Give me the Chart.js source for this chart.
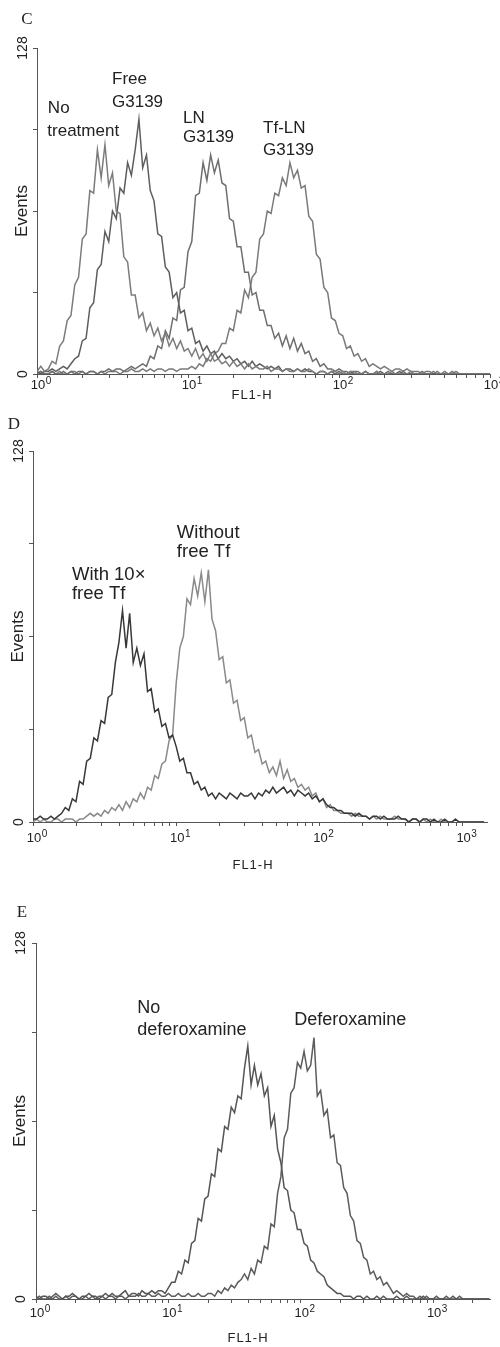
<!DOCTYPE html>
<html>
<head>
<meta charset="utf-8">
<script src="https://cdn.jsdelivr.net/npm/chart.js@4.4.1/dist/chart.umd.min.js"></script>
<style>
  html, body { margin: 0; padding: 0; background: #fff; }
  body { position: relative; width: 500px; height: 1347px; overflow: hidden; }
  canvas { position: absolute; left: 0; }
</style>
</head>
<body>
<canvas id="panel-c" width="500" height="412" style="top:0px"></canvas>
<canvas id="panel-d" width="500" height="465" style="top:412px"></canvas>
<canvas id="panel-e" width="500" height="470" style="top:877px"></canvas>
<script>
// FL1-H histograms: counts per log channel, channel 0 = 10^0, 40 channels per decade
const binsPerDecade = 40;

const yTickValues = [0, 32, 64, 96, 128];
const yTickLabels = ['0', '', '', '', '128'];
const xTickValues = [1, 2, 3, 4, 5, 6, 7, 8, 9, 10, 20, 30, 40, 50, 60, 70, 80, 90,
  100, 200, 300, 400, 500, 600, 700, 800, 900, 1000, 2000];
const xMajorTicks = [1, 10, 100, 1000];
const xMajorExponents = ['0', '1', '2', '3'];

// Panel C
const noTreatment = [
  1, 3, 1, 2, 5, 4, 11, 13, 21, 23,
  35, 38, 53, 55, 72, 71, 88, 77, 90, 74,
  79, 64, 63, 46, 44, 31, 31, 22, 24, 17,
  20, 15, 18, 13, 16, 11, 14, 10, 13, 9,
  10, 7, 10, 6, 8, 5, 8, 5, 6, 4,
  5, 3, 5, 3, 4, 2, 4, 2, 3, 2,
  2, 3, 1, 2, 2, 1, 2, 1, 1, 2,
  1, 1, 2, 1, 0, 1, 1, 0, 1, 1,
  0, 1, 0, 1, 1, 0, 0, 1, 0, 0, 1, 0, 0, 0, 1, 0, 0, 0, 0, 1,
  0, 0, 0, 0, 0, 1, 0, 0, 0, 0, 0, 0, 0, 0, 0, 0, 0, 0, 0, 0, 0
];
const freeG3139 = [
  1, 0, 1, 1, 2, 1, 2, 3, 2, 4,
  6, 7, 13, 14, 26, 28, 41, 43, 56, 52,
  64, 61, 73, 71, 83, 78, 88, 100, 81, 86,
  72, 68, 55, 54, 42, 40, 30, 32, 24, 25,
  17, 18, 12, 13, 9, 11, 8, 9, 6, 8,
  6, 7, 5, 6, 4, 5, 3, 5, 3, 4,
  3, 2, 3, 2, 3, 1, 2, 2, 1, 2,
  1, 2, 1, 1, 0, 1, 1, 0, 1, 0,
  1, 0, 0, 1, 0, 0, 0, 1, 0, 0, 0, 1, 0, 0, 0, 0, 1, 0, 0, 0,
  0, 0, 0, 0, 0, 0, 0, 0, 0, 0, 0, 0, 0, 0, 0, 0, 0, 0, 0, 0, 0
];
const lnG3139 = [
  0, 1, 0, 0, 1, 0, 0, 1, 0, 1, 0, 1, 1, 0, 1, 1, 0, 1, 1, 2,
  1, 2, 2, 1, 2, 3, 2, 3,
  4, 3, 7, 6, 11, 10, 17, 14, 22, 21,
  33, 34, 48, 52, 70, 71, 83, 76, 86, 79,
  84, 75, 74, 61, 60, 50, 50, 40, 40, 31,
  32, 25, 25, 19, 19, 14, 16, 11, 15, 10,
  14, 9, 12, 8, 9, 5, 6, 3, 4, 2,
  2, 1, 2, 1, 1, 0, 1, 1, 0, 1, 0, 0, 1, 0, 0, 1, 0, 0, 0, 1,
  0, 0, 0, 0, 1, 0, 0, 0, 0, 0, 0, 0, 1, 0, 0, 0, 0, 0, 0, 0, 0, 0, 0
];
const tfLnG3139 = [
  0, 1, 0, 0, 1, 0, 1, 0, 0, 1, 1, 0, 1, 0, 1, 1, 0, 1, 0, 1,
  1, 1, 0, 1, 1, 2, 1, 1, 2, 1, 2, 1, 2, 2, 1, 2, 2, 1, 2, 2,
  2, 3, 2, 4, 3, 6, 5, 8, 9, 12,
  12, 18, 17, 25, 24, 33, 30, 38, 40, 53,
  55, 64, 63, 71, 70, 77, 74, 83, 77, 80,
  73, 74, 62, 60, 47, 45, 34, 32, 22, 21,
  16, 15, 10, 11, 7, 8, 5, 6, 3, 4,
  3, 2, 3, 2, 1, 2, 2, 1, 2, 1,
  1, 1, 0, 1, 1, 0, 1, 0, 1, 0, 0, 1, 0, 0, 0, 0, 0, 0, 0, 0, 0
];

// Panel D
const with10xFreeTf = [
  1, 1, 2, 1, 1, 2, 1, 2, 3, 5,
  4, 8, 7, 14, 13, 21, 22, 29, 28, 35,
  34, 43, 44, 55, 62, 73, 60, 72, 55, 60,
  54, 58, 45, 46, 38, 39, 33, 34, 29, 30,
  26, 21, 22, 17, 17, 13, 14, 11, 12, 9,
  10, 8, 10, 9, 8, 10, 9, 8, 10, 9,
  9, 10, 8, 10, 9, 11, 10, 12, 10, 11,
  12, 10, 11, 9, 11, 10, 9, 10, 8, 9,
  7, 8, 6, 5, 5, 4, 4, 3, 3, 3,
  2, 3, 2, 2, 1, 2, 2, 1, 2, 1,
  1, 1, 2, 1, 1, 0, 1, 1, 0, 1,
  1, 0, 1, 0, 0, 1, 0, 0, 1, 0, 0, 0, 0, 0, 0, 0, 0
];
const withoutFreeTf = [
  0, 1, 0, 1, 0, 0, 1, 1, 0, 1, 1, 1, 0, 1,
  1, 2, 3, 2, 3, 2, 4, 3, 5, 4,
  6, 4, 7, 5, 8, 7, 10, 8, 12, 11,
  16, 15, 20, 21, 28, 30, 48, 60, 64, 77,
  75, 84, 78, 86, 76, 87, 70, 66, 56, 57,
  48, 49, 41, 42, 35, 36, 29, 30, 24, 25,
  20, 21, 17, 19, 16, 21, 15, 18, 14, 15,
  12, 13, 11, 12, 9, 10, 7, 8, 5, 6,
  4, 4, 3, 3, 3, 2, 3, 2, 2, 2,
  1, 2, 1, 2, 1, 1, 1, 2, 1, 1,
  1, 0, 1, 1, 0, 1, 0, 1, 0, 0, 1, 0, 0, 0, 1, 0, 0, 0, 0, 0, 0, 0, 0
];

// Panel E
const noDeferoxamine = [
  1, 0, 1, 1, 0, 1, 2, 1, 0, 1, 1, 2, 1, 0, 1, 1, 2, 1, 1, 0,
  1, 2, 1, 2, 1, 1, 2, 3, 1, 2, 2, 1, 3, 2, 2, 3, 2, 3, 3, 2,
  4, 6, 6, 10, 9, 14, 13, 20, 21, 29,
  28, 36, 37, 45, 44, 54, 53, 62, 61, 69,
  67, 73, 72, 83, 91, 77, 84, 77, 81, 73,
  76, 62, 66, 54, 49, 40, 39, 32, 31, 25,
  25, 20, 19, 14, 13, 10, 9, 8, 5, 4,
  3, 2, 2, 1, 1, 1, 0, 1, 1, 0,
  1, 0, 0, 1, 0, 1, 0, 0, 0, 1, 0, 0, 1, 0, 0, 0, 0, 1, 0, 0,
  0, 0, 0, 0, 0, 0, 1, 0, 0, 0, 0, 0, 0, 0, 0, 0, 0, 0
];
const deferoxamine = [
  0, 1, 0, 0, 1, 0, 1, 0, 0, 1, 0, 1, 1, 0, 0, 1, 0, 1, 0, 1,
  1, 0, 1, 1, 0, 1, 1, 0, 1, 1, 1, 2, 1, 1, 2, 1, 1, 2, 1, 1,
  2, 1, 1, 2, 1, 1, 2, 1, 1, 2, 1, 1, 2,
  2, 1, 3, 2, 4, 3, 5, 4, 6, 7,
  9, 7, 11, 9, 14, 13, 19, 18, 27, 26,
  38, 44, 58, 61, 74, 76, 85, 83, 89, 82,
  84, 94, 73, 75, 66, 68, 58, 59, 49, 48,
  40, 38, 30, 28, 21, 20, 15, 14, 9, 10,
  7, 8, 5, 6, 4, 2, 3, 2, 1, 2,
  1, 1, 0, 1, 0, 1, 0, 0, 1, 0, 0, 1, 0, 0, 0, 1, 0, 0, 0, 0,
  0, 0, 0, 0, 0
];

function toPoints(counts) {
  return counts.map((c, i) => ({ x: Math.pow(10, i / binsPerDecade), y: c }));
}

const labelFont = '"Liberation Sans", Arial, sans-serif';
const ink = '#222';

const panelText = {
  id: 'panelText',
  afterDraw(chart) {
    const p = chart.options.plugins.panelText;
    const { ctx, chartArea } = chart;
    const xs = chart.scales.x, ys = chart.scales.y;
    ctx.save();
    ctx.fillStyle = ink;
    ctx.textBaseline = 'middle';

    // panel letter
    ctx.font = '17px "Liberation Serif", "Times New Roman", serif';
    ctx.textAlign = 'center';
    ctx.fillText(p.letter, p.letterPos[0], chartArea.top + p.letterPos[1]);

    // y tick labels (rotated)
    ctx.font = '14px ' + labelFont;
    yTickValues.forEach((v, i) => {
      if (!yTickLabels[i]) return;
      ctx.save();
      ctx.translate(p.yLabelX, ys.getPixelForValue(v));
      ctx.rotate(-Math.PI / 2);
      ctx.fillText(yTickLabels[i], 0, 0);
      ctx.restore();
    });

    // y title
    ctx.save();
    ctx.font = '17px ' + labelFont;
    ctx.translate(p.yTitleX, (chartArea.top + chartArea.bottom) / 2);
    ctx.rotate(-Math.PI / 2);
    ctx.fillText('Events', 0, 0);
    ctx.restore();

    // x tick labels 10^n
    xMajorTicks.forEach((v, i) => {
      const px = xs.getPixelForValue(v);
      if (px > chartArea.right + 2) return;
      const ty = chartArea.bottom + p.xLabelDy;
      ctx.font = '13px ' + labelFont;
      ctx.textAlign = 'center';
      ctx.fillText('10', px + 1, ty);
      const w = ctx.measureText('10').width;
      ctx.font = '10px ' + labelFont;
      ctx.textAlign = 'left';
      ctx.fillText(xMajorExponents[i], px + 1 + w / 2 + 0.5, ty - 4);
    });

    // x title
    ctx.font = '13px ' + labelFont;
    ctx.textAlign = 'center';
    ctx.letterSpacing = '1px';
    ctx.fillText('FL1-H', p.xTitleX, chartArea.bottom + p.xTitleDy);
    ctx.letterSpacing = '0px';

    // curve annotations
    ctx.font = p.noteSize + 'px ' + labelFont;
    ctx.textAlign = 'left';
    p.notes.forEach(n => {
      ctx.fillText(n.text, xs.getPixelForValue(n.x), ys.getPixelForValue(n.y));
    });
    ctx.restore();
  }
};

function makePanel(id, cfg) {
  return new Chart(document.getElementById(id), {
    type: 'line',
    data: {
      datasets: cfg.series.map(s => ({
        label: s.label,
        data: toPoints(s.counts),
        borderColor: s.color,
        borderWidth: 1.5,
        pointRadius: 0,
        tension: 0,
        fill: false
      }))
    },
    options: {
      responsive: false,
      animation: false,
      events: [],
      layout: { padding: { top: cfg.top, right: cfg.right, left: 0, bottom: 0 } },
      plugins: {
        legend: { display: false },
        tooltip: { enabled: false },
        panelText: cfg.text
      },
      scales: {
        x: {
          type: 'logarithmic',
          min: 1,
          max: cfg.xMax,
          afterBuildTicks: s => { s.ticks = xTickValues.filter(v => v <= cfg.xMax).map(v => ({ value: v })); },
          afterFit: s => { s.height = cfg.xAxisH; },
          ticks: { display: false },
          grid: { drawOnChartArea: false, tickLength: 4, color: '#555', lineWidth: 1 },
          border: { color: '#555', width: 1 }
        },
        y: {
          min: 0,
          max: 128,
          afterBuildTicks: s => { s.ticks = yTickValues.map(v => ({ value: v })); },
          afterFit: s => { s.width = cfg.yAxisW; },
          ticks: { display: false },
          grid: { drawOnChartArea: false, tickLength: 4, color: '#555', lineWidth: 1 },
          border: { color: '#555', width: 1 }
        }
      }
    },
    plugins: [panelText]
  });
}

// canvas C: y 0..412, plot area 48..374
makePanel('panel-c', {
  top: 48, right: 10, yAxisW: 37, xAxisH: 38, xMax: 1000,
  series: [
    { label: 'No treatment', counts: noTreatment, color: '#7c7c7c' },
    { label: 'Free G3139', counts: freeG3139, color: '#5e5e5e' },
    { label: 'LN G3139', counts: lnG3139, color: '#6e6e6e' },
    { label: 'Tf-LN G3139', counts: tfLnG3139, color: '#7a7a7a' }
  ],
  text: {
    letter: 'C', letterPos: [27, -28], yLabelX: 23, yTitleX: 22,
    xLabelDy: 11, xTitleX: 252, xTitleDy: 21, noteSize: 17,
    notes: [
      { text: 'No', x: 1.18, y: 104.4 },
      { text: 'treatment', x: 1.17, y: 95.4 },
      { text: 'Free', x: 3.14, y: 115.8 },
      { text: 'G3139', x: 3.14, y: 106.8 },
      { text: 'LN', x: 9.27, y: 100.5 },
      { text: 'G3139', x: 9.27, y: 93.1 },
      { text: 'Tf-LN', x: 31.4, y: 96.6 },
      { text: 'G3139', x: 31.4, y: 87.9 }
    ]
  }
});

// canvas D: y 412..877, plot area 451..822
makePanel('panel-d', {
  top: 39, right: 13, yAxisW: 33, xAxisH: 55, xMax: 1480,
  series: [
    { label: 'With 10× free Tf', counts: with10xFreeTf, color: '#383838' },
    { label: 'Without free Tf', counts: withoutFreeTf, color: '#8a8a8a' }
  ],
  text: {
    letter: 'D', letterPos: [14, -26], yLabelX: 19, yTitleX: 18,
    xLabelDy: 16, xTitleX: 253, xTitleDy: 43, noteSize: 18.5,
    notes: [
      { text: 'Without', x: 10.1, y: 99.7 },
      { text: 'free Tf', x: 10.1, y: 93.2 },
      { text: 'With 10×', x: 1.87, y: 85.2 },
      { text: 'free Tf', x: 1.87, y: 78.7 }
    ]
  }
});

// canvas E: y 877..1347, plot area 943..1299
makePanel('panel-e', {
  top: 66, right: 10, yAxisW: 36, xAxisH: 48, xMax: 2690,
  series: [
    { label: 'No deferoxamine', counts: noDeferoxamine, color: '#555' },
    { label: 'Deferoxamine', counts: deferoxamine, color: '#5c5c5c' }
  ],
  text: {
    letter: 'E', letterPos: [22, -30], yLabelX: 21, yTitleX: 20,
    xLabelDy: 14, xTitleX: 248, xTitleDy: 39, noteSize: 18,
    notes: [
      { text: 'No', x: 5.83, y: 104.6 },
      { text: 'deferoxamine', x: 5.83, y: 96.7 },
      { text: 'Deferoxamine', x: 89.3, y: 100.3 }
    ]
  }
});
</script>
</body>
</html>
